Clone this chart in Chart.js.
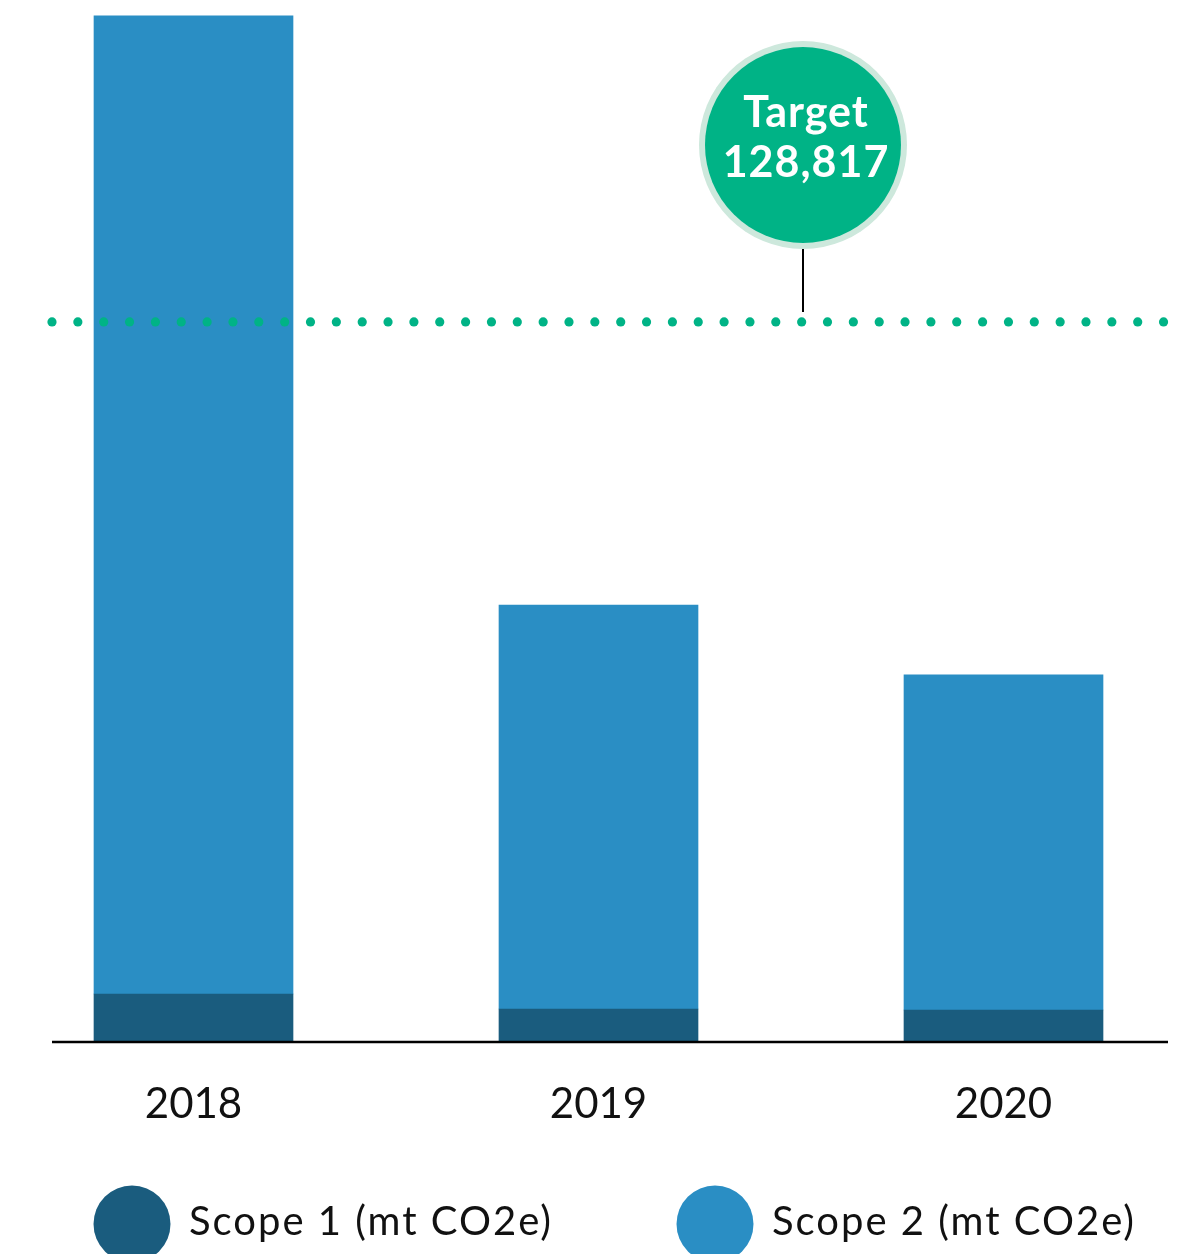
<!DOCTYPE html>
<html>
<head>
<meta charset="utf-8">
<script src="https://cdn.jsdelivr.net/npm/chart.js@4"></script>
<style>
  html, body { margin: 0; padding: 0; background: #fff; }
  canvas { display: block; }
</style>
</head>
<body>
<canvas id="myChart" width="1178" height="1254"></canvas>
<script>
// data (mt CO2e)
var years = ["2018", "2019", "2020"];
var scope1 = [8590, 5900, 5720];
var scope2 = [174970, 72280, 59940];
var seriesNames = ["Scope 1 (mt CO2e)", "Scope 2 (mt CO2e)"];
var targetValue = 128817;
var targetText = ["Target", "128,817"];

var darkBlue = "#1a5c7e";
var lightBlue = "#2a8ec4";
var green = "#00b386";
var font = "Lato, 'Open Sans', sans-serif";

// baseline, dotted target line, target bubble and legend
const extras = {
  id: "extras",
  afterDatasetsDraw(chart) {
    const ctx = chart.ctx;
    const area = chart.chartArea;
    const yT = chart.scales.y.getPixelForValue(targetValue);

    ctx.save();
    // baseline
    ctx.strokeStyle = "#000";
    ctx.lineWidth = 2.5;
    ctx.beginPath();
    ctx.moveTo(52, area.bottom);
    ctx.lineTo(1168, area.bottom);
    ctx.stroke();

    // dotted target line
    ctx.fillStyle = green;
    for (let x = 52; x <= 1168; x += 25.85) {
      ctx.beginPath();
      ctx.arc(x, yT, 4.6, 0, Math.PI * 2);
      ctx.fill();
    }

    // connector + bubble
    const cx = 803, cy = 145;
    ctx.strokeStyle = "#000";
    ctx.lineWidth = 2;
    ctx.beginPath();
    ctx.moveTo(cx, cy + 102);
    ctx.lineTo(cx, yT - 10);
    ctx.stroke();

    ctx.fillStyle = "#cde8dc";
    ctx.beginPath();
    ctx.arc(cx, cy, 104, 0, Math.PI * 2);
    ctx.fill();
    ctx.fillStyle = green;
    ctx.beginPath();
    ctx.arc(cx, cy, 98, 0, Math.PI * 2);
    ctx.fill();

    ctx.fillStyle = "#fff";
    ctx.textAlign = "center";
    ctx.textBaseline = "middle";
    ctx.font = "bold 43px " + font;
    ctx.letterSpacing = "1px";
    ctx.fillText(targetText[0], cx + 3, cy - 32);
    ctx.fillText(targetText[1], cx + 3, cy + 18);

    // legend
    const legendX = [132, 715];
    const legendY = 1224;
    ctx.textAlign = "left";
    ctx.font = "40px " + font;
    ctx.letterSpacing = "2px";
    chart.data.datasets.forEach(function (ds, i) {
      ctx.fillStyle = ds.backgroundColor;
      ctx.beginPath();
      ctx.arc(legendX[i], legendY, 38.5, 0, Math.PI * 2);
      ctx.fill();
      ctx.fillStyle = "#111";
      ctx.fillText(ds.label, legendX[i] + 57, legendY - 2);
    });
    ctx.restore();
  }
};

const ctx = document.getElementById("myChart");
new Chart(ctx, {
  type: "bar",
  data: {
    labels: years,
    datasets: [
      {
        label: seriesNames[0],
        data: scope1,
        backgroundColor: darkBlue,
        barThickness: 199,
        clip: false
      },
      {
        label: seriesNames[1],
        data: scope2,
        backgroundColor: lightBlue,
        barThickness: 199,
        clip: false
      }
    ]
  },
  options: {
    responsive: false,
    animation: false,
    layout: {
      padding: { left: 193.5, right: 174.5, top: 0, bottom: 0 }
    },
    plugins: {
      legend: { display: false },
      tooltip: { enabled: false }
    },
    scales: {
      x: {
        stacked: true,
        offset: false,
        grid: { display: false },
        border: { display: false },
        ticks: {
          color: "#111",
          padding: 29,
          font: { family: font, size: 42 },
          maxRotation: 0
        },
        afterFit(scale) { scale.height = 212; }
      },
      y: {
        stacked: true,
        display: false,
        min: 0,
        max: 186400
      }
    }
  },
  plugins: [extras]
});
</script>
</body>
</html>
